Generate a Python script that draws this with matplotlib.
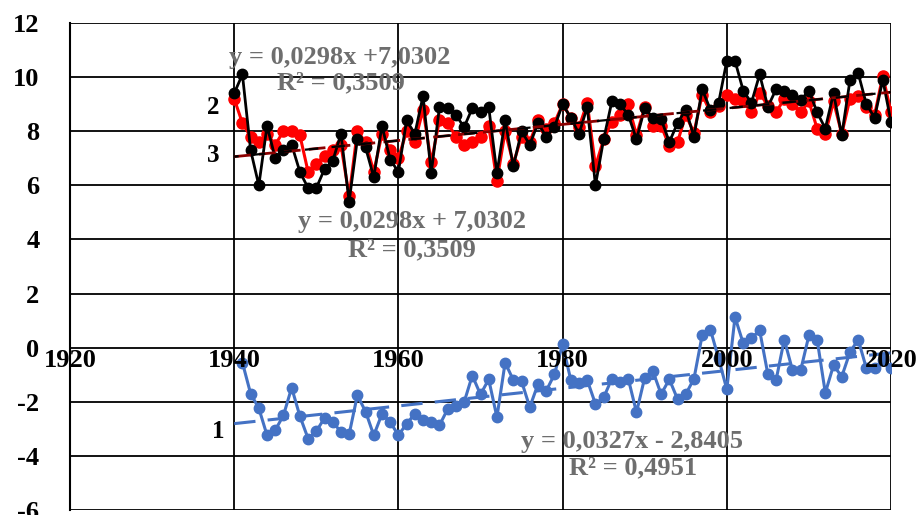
import numpy as np
import matplotlib
matplotlib.use("Agg")
import matplotlib.pyplot as plt

plt.rcParams["axes.unicode_minus"] = False

years = np.arange(1940, 2021)

# series 2 (black)
black_vals = [9.4, 10.1, 7.3, 6.0, 8.2, 7.0, 7.3, 7.5, 6.5, 5.9,
              5.9, 6.6, 6.9, 7.9, 5.4, 7.7, 7.4, 6.3, 8.2, 6.95,
              6.5, 8.4, 7.9, 9.3, 6.45, 8.9, 8.85, 8.6, 8.15, 8.85,
              8.7, 8.9, 6.45, 8.4, 6.7, 8.0, 7.5, 8.3, 7.8, 8.15,
              9.0, 8.5, 7.9, 8.9, 6.0, 7.7, 9.1, 9.0, 8.6, 7.7,
              8.85, 8.5, 8.45, 7.6, 8.3, 8.8, 7.8, 9.55, 8.8, 9.05,
              10.6, 10.6, 9.5, 9.05, 10.1, 8.9, 9.55, 9.5, 9.35, 9.15,
              9.5, 8.7, 8.1, 9.4, 7.85, 9.88, 10.15, 9.0, 8.5, 9.9,
              8.35]

# series 3 (red)
red_vals = [9.2, 8.3, 7.8, 7.6, 7.9, 7.5, 8.0, 8.0, 7.85, 6.5,
            6.8, 7.1, 7.3, 7.5, 5.6, 8.0, 7.6, 6.5, 7.9, 7.3,
            7.0, 8.0, 7.6, 8.8, 6.85, 8.4, 8.3, 7.8, 7.5, 7.6,
            7.8, 8.2, 6.15, 8.0, 6.8, 7.8, 7.6, 8.4, 8.1, 8.3,
            9.0, 8.5, 8.15, 9.05, 6.7, 7.7, 8.35, 8.6, 9.0, 7.85,
            8.9, 8.2, 8.2, 7.45, 7.6, 8.6, 7.95, 9.35, 8.7, 8.95,
            9.35, 9.2, 9.1, 8.7, 9.4, 8.95, 8.7, 9.2, 9.0, 8.7,
            9.1, 8.1, 7.9, 9.1, 7.9, 9.2, 9.3, 8.9, 8.6, 10.05,
            8.7]

# series 1 (blue), starts 1941
blue_vals = [np.nan, -0.55, -1.7, -2.24, -3.24, -3.05, -2.5, -1.48, -2.53, -3.36,
             -3.09, -2.6, -2.75, -3.11, -3.2, -1.76, -2.36, -3.24, -2.45, -2.75,
             -3.24, -2.81, -2.45, -2.69, -2.73, -2.87, -2.27, -2.17, -2.02, -1.03,
             -1.73, -1.17, -2.57, -0.55, -1.2, -1.24, -2.2, -1.35, -1.6, -0.99,
             0.12, -1.2, -1.3, -1.2, -2.08, -1.84, -1.15, -1.27, -1.15, -2.39,
             -1.11, -0.87, -1.72, -1.17, -1.9, -1.72, -1.15, 0.46, 0.67, -0.4,
             -1.54, 1.13, 0.16, 0.35, 0.64, -0.98, -1.2, 0.3, -0.83, -0.83,
             0.45, 0.3, -1.67, -0.65, -1.07, -0.17, 0.3, -0.76, -0.76, -0.45,
             -0.76]

# trend coefficients (x = index starting at 1)
trend_23 = (0.0298, 7.0302)
trend_1 = (0.0327, -2.8405)

eq_top = "y = 0,0298x +7,0302"
r2_top = "R² = 0,3509"
eq_mid = "y = 0,0298x + 7,0302"
r2_mid = "R² = 0,3509"
eq_low = "y = 0,0327x - 2,8405"
r2_low = "R² = 0,4951"

xticks = [1920, 1940, 1960, 1980, 2000, 2020]
yticks = [-6, -4, -2, 0, 2, 4, 6, 8, 10, 12]

SERIF = ["Liberation Serif", "DejaVu Serif"]

fig = plt.figure(figsize=(9.24, 5.15), dpi=100)
ax = fig.add_axes([70/924, 5/515, 821/924, 487/515])

ax.set_xlim(1920, 2020)
ax.set_ylim(-6, 12)
ax.set_xticks(xticks)
ax.set_yticks(yticks)
ax.grid(True, color="black", lw=1.3)
ax.set_axisbelow(True)
for s in ["top", "right", "bottom"]:
    ax.spines[s].set_visible(False)
ax.spines["left"].set_color("black")
ax.spines["left"].set_linewidth(1.5)
ax.tick_params(axis="x", length=0, labelbottom=False)
ax.tick_params(axis="y", length=0, pad=22)
for lab in ax.get_yticklabels():
    lab.set_fontfamily(SERIF)
    lab.set_fontweight("bold")
    lab.set_fontsize(19)

idx = np.arange(1, len(years) + 1)

ax.plot(years, red_vals, color="#FF0000", lw=2.2, marker="o", ms=8, zorder=3)
ax.plot(years, black_vals, color="black", lw=2.0, marker="o", ms=7.5, zorder=4)
ax.plot(years, blue_vals, color="#4472C4", lw=2.2, marker="o", ms=7.5, zorder=3)

ax.plot(years, trend_23[0]*idx + trend_23[1], color="#8B0000", lw=2.0,
        ls=(0, (6, 3)), zorder=5)
ax.plot(years, trend_23[0]*idx + trend_23[1], color="black", lw=1.6,
        ls=(4, (6, 6)), zorder=5)
ax.plot(years, trend_1[0]*idx + trend_1[1], color="#4472C4", lw=2.2,
        ls=(0, (7, 4)), zorder=2.8)

for xt in xticks:
    ax.text(xt, -0.05, str(xt), ha="center", va="top", fontsize=19,
            fontweight="bold", family=SERIF, color="black", zorder=10)

gray = "#6E6E6E"
kw = dict(ha="center", va="center", fontsize=19, fontweight="bold",
          family=SERIF, color=gray, zorder=10)
ax.text(1952.9, 10.74, eq_top, **kw)
ax.text(1953.0, 9.78, r2_top, **kw)
ax.text(1961.7, 4.65, eq_mid, **kw)
ax.text(1961.6, 3.61, r2_mid, **kw)
ax.text(1988.4, -3.48, eq_low, **kw)
ax.text(1988.6, -4.45, r2_low, **kw)

kw2 = dict(ha="center", va="center", fontsize=18, fontweight="bold",
           family=SERIF, color="black", zorder=10)
ax.text(1937.4, 8.86, "2", **kw2)
ax.text(1937.4, 7.12, "3", **kw2)
ax.text(1938.0, -3.11, "1", **kw2)

fig.savefig("out.png", dpi=100)
